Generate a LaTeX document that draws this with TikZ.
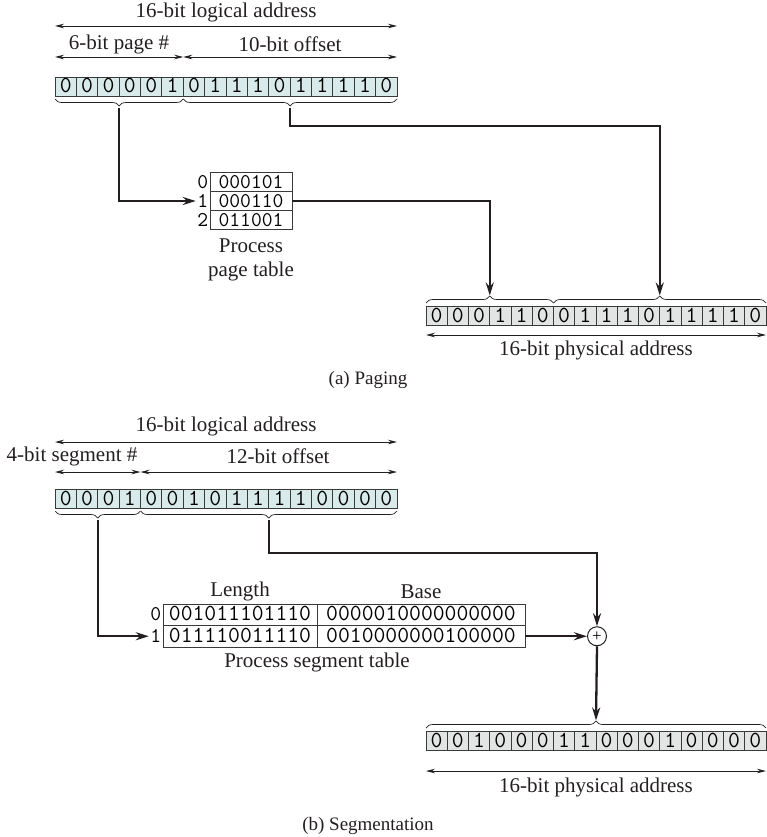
\documentclass[tikz,border=0pt]{standalone}
\usepackage{fontspec}
\setmainfont{Liberation Serif}
\usepackage{tikz}
\usetikzlibrary{arrows.meta, decorations.pathreplacing, calc, positioning}
\definecolor{CellTeal}{HTML}{D8EBEA}
\definecolor{CellGray}{HTML}{E3E4E4}
\definecolor{InkDark}{HTML}{231F20}
\definecolor{GridLine}{HTML}{3A3A3A}

\tikzset{
  bitcell/.style={draw=GridLine, line width=0.9pt, fill=CellTeal, outer sep=0pt,
    minimum width=21.375pt, minimum height=19pt, inner sep=0pt,
    text height=13pt, text depth=0pt,
    font=\fontsize{23}{23}\selectfont\ttfamily},
  physcell/.style={bitcell, fill=CellGray, minimum width=21.25pt},
  tabrow/.style={draw=GridLine, line width=0.9pt, outer sep=0pt, inner sep=0pt,
    text height=12pt, text depth=0pt,
    font=\fontsize{21}{21}\selectfont\ttfamily},
  idx/.style={anchor=east, inner sep=1.5pt, text height=12pt, text depth=0pt,
    font=\fontsize{21}{21}\selectfont\ttfamily},
  lbl/.style={inner sep=0pt, text=InkDark, font=\fontsize{21}{24}\selectfont, align=center},
  dimline/.style={line width=0.8pt, draw=InkDark,
    {Stealth[length=9pt,width=4.5pt]}-{Stealth[length=9pt,width=4.5pt]}},
  flowline/.style={line width=2.3pt, draw=InkDark, -{Stealth[length=13pt,width=8pt]}},
  bracket/.style={draw=InkDark, line width=0.7pt, decorate, decoration={brace, amplitude=7pt}},
}

\begin{document}
\begin{tikzpicture}[x=1pt, y=-1pt]
\useasboundingbox (0,0) rectangle (767,837);

% (a) paging
\node[lbl] (plhead) at (226,12) {16-bit logical address};
\node[lbl] (plpagehd) at (119,44) {6-bit page \#};
\node[lbl] (ploffhd) at (290,44) {10-bit offset};

\foreach \b [count=\i] in {0,0,0,0,0,1,0,1,1,1,0,1,1,1,1,0}
  \node[bitcell] (pl\i) at ({55+(\i-0.5)*21.375},86.5) {\b};

\draw[dimline] (pl1.west |- 0,26) -- (pl16.east |- 0,26);
\draw[dimline] (pl1.west |- 0,57) -- (pl6.east |- 0,57);
\draw[dimline] (pl7.west |- 0,57) -- (pl16.east |- 0,57);

\draw[bracket] ([yshift=-3pt]pl6.south east) -- ([yshift=-3pt]pl1.south west);
\draw[bracket] ([yshift=-3pt]pl16.south east) -- ([yshift=-3pt]pl7.south west);
\coordinate (plpage) at ($(pl1.south west)!0.5!(pl6.south east) + (0,12)$);
\coordinate (ploff) at ($(pl7.south west)!0.5!(pl16.south east) + (0,12)$);

% page table
\node[tabrow, minimum width=82pt, minimum height=19pt] (pt0) at (251,182) {000101};
\node[tabrow, minimum width=82pt, minimum height=19pt, below=0pt of pt0] (pt1) {000110};
\node[tabrow, minimum width=82pt, minimum height=19pt, below=0pt of pt1] (pt2) {011001};
\node[idx] (pti0) at (pt0.west) {0};
\node[idx] (pti1) at (pt1.west) {1};
\node[idx] (pti2) at (pt2.west) {2};
\node[lbl, anchor=north] (ptcap) at ([yshift=-9pt]pt2.south) {Process\\page table};

% physical address
\foreach \b [count=\i] in {0,0,0,1,1,0,0,1,1,1,0,1,1,1,1,0}
  \node[physcell] (pp\i) at ({426+(\i-0.5)*21.25},315.5) {\b};

\draw[bracket] ([yshift=3pt]pp1.north west) -- ([yshift=3pt]pp6.north east);
\draw[bracket] ([yshift=3pt]pp7.north west) -- ([yshift=3pt]pp16.north east);
\coordinate (pppage) at ($(pp1.north west)!0.5!(pp6.north east) + (0,-10.5)$);
\coordinate (ppoff) at ($(pp7.north west)!0.5!(pp16.north east) + (0,-10.5)$);

\draw[dimline] (pp1.west |- 0,335) -- (pp16.east |- 0,335);
\node[lbl] (pptail) at (596,350) {16-bit physical address};

\draw[flowline] (plpage) |- (pti1.west);
\draw[flowline] (ploff) -- ++(0,18) -| (ppoff);
\draw[flowline] (pt1.east) -| (pppage);

\node[lbl, font=\fontsize{19}{22}\selectfont] (capa) at (368,380) {(a) Paging};

% (b) segmentation
\node[lbl] (slhead) at (226,426) {16-bit logical address};
\node[lbl] (slseghd) at (72,456) {4-bit segment \#};
\node[lbl] (sloffhd) at (278,456) {12-bit offset};

\foreach \b [count=\i] in {0,0,0,1,0,0,1,0,1,1,1,1,0,0,0,0}
  \node[bitcell] (sl\i) at ({55+(\i-0.5)*21.375},498.5) {\b};

\draw[dimline] (sl1.west |- 0,442) -- (sl16.east |- 0,442);
\draw[dimline] (sl1.west |- 0,472) -- (sl4.east |- 0,472);
\draw[dimline] (sl5.west |- 0,472) -- (sl16.east |- 0,472);

\draw[bracket] ([yshift=-3pt]sl4.south east) -- ([yshift=-3pt]sl1.south west);
\draw[bracket] ([yshift=-3pt]sl16.south east) -- ([yshift=-3pt]sl5.south west);
\coordinate (slseg) at ($(sl1.south west)!0.5!(sl4.south east) + (0,12)$);
\coordinate (sloff) at ($(sl5.south west)!0.5!(sl16.south east) + (0,12)$);

% segment table
\node[tabrow, minimum width=154pt, minimum height=21.5pt, font=\fontsize{23}{23}\selectfont\ttfamily] (stl0) at (240,614.75) {001011101110};
\node[tabrow, minimum width=208pt, minimum height=21.5pt, font=\fontsize{23}{23}\selectfont\ttfamily, right=0pt of stl0] (stb0) {0000010000000000};
\node[tabrow, minimum width=154pt, minimum height=21.5pt, font=\fontsize{23}{23}\selectfont\ttfamily, below=0pt of stl0] (stl1) {011110011110};
\node[tabrow, minimum width=208pt, minimum height=21.5pt, font=\fontsize{23}{23}\selectfont\ttfamily, right=0pt of stl1] (stb1) {0010000000100000};
\node[idx] (sti0) at (stl0.west) {0};
\node[idx] (sti1) at (stl1.west) {1};
\node[lbl, anchor=base] (stlenhd) at ([yshift=8pt]stl0.north) {Length};
\node[lbl, anchor=base] (stbasehd) at ([yshift=6pt]stb0.north) {Base};
\node[lbl, anchor=north] (stcap) at ([yshift=-6pt]stl1.south east) {Process segment table};

\node[draw=InkDark, circle, line width=1pt, minimum size=19pt, inner sep=0pt,
  font=\fontsize{17}{17}\selectfont] (plus) at (stb1.east -| 597,0) {+};

% physical address
\foreach \b [count=\i] in {0,0,1,0,0,0,1,1,0,0,0,1,0,0,0,0}
  \node[physcell] (sp\i) at ({426+(\i-0.5)*21.25},740.5) {\b};

\draw[bracket] ([yshift=3pt]sp1.north west) -- ([yshift=3pt]sp16.north east);
\coordinate (spall) at ($(sp1.north west)!0.5!(sp16.north east) + (0,-10.5)$);

\draw[dimline] (sp1.west |- 0,771) -- (sp16.east |- 0,771);
\node[lbl] (sptail) at (596,787) {16-bit physical address};

\draw[flowline] (slseg) |- (sti1.west);
\draw[flowline] (sloff) -- ++(0,33) -| (plus.north);
\draw[flowline] (stb1.east) -- (plus.west);
\draw[flowline] (plus.south) -- (spall);

\node[lbl, font=\fontsize{19}{22}\selectfont] (capb) at (368,826) {(b) Segmentation};
\end{tikzpicture}
\end{document}
